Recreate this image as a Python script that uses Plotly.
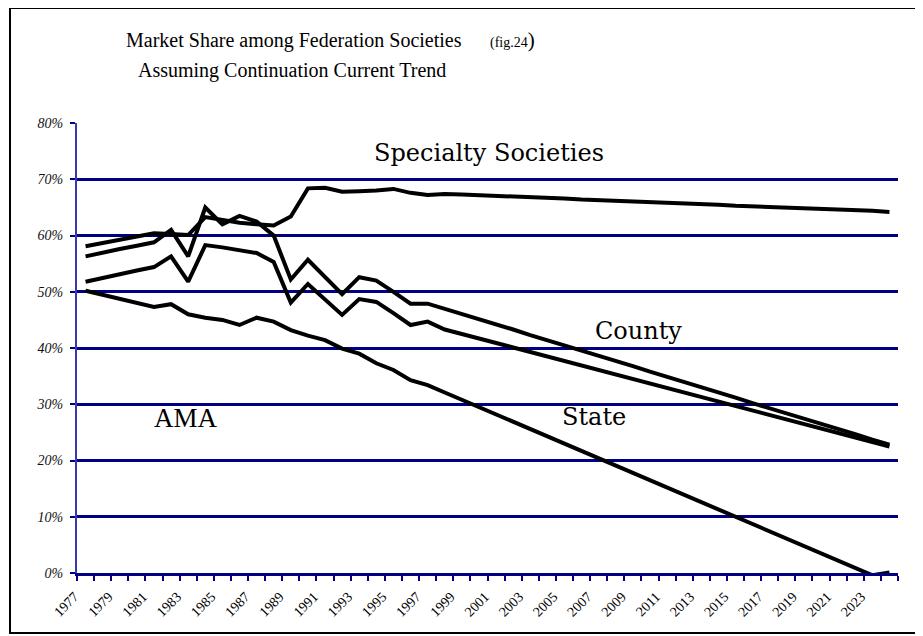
import plotly.graph_objects as go

years = list(range(1977, 2025))

specialty = [58.1, 58.7, 59.2, 59.8, 60.4, 60.3, 60.1, 63.3, 62.8, 62.3,
             62.0, 61.8, 63.4, 68.4, 68.5, 67.8, 67.9, 68.0, 68.3, 67.6,
             67.2, 67.4, 67.3, 67.2, 67.0, 66.9, 66.8, 66.7, 66.6, 66.4,
             66.3, 66.2, 66.1, 66.0, 65.8, 65.7, 65.6, 65.5, 65.3, 65.2,
             65.1, 65.0, 64.9, 64.7, 64.6, 64.5, 64.4, 64.2]

county = [56.3, 57.0, 57.6, 58.2, 58.8, 61.0, 56.3, 65.0, 62.0, 63.5,
          62.5, 60.0, 52.2, 55.7, 52.7, 49.6, 52.6, 52.0, 50.0, 47.9,
          47.9, 47.0, 46.1, 45.1, 44.2, 43.3, 42.3, 41.4, 40.5, 39.5,
          38.6, 37.7, 36.8, 35.8, 34.9, 34.0, 33.0, 32.1, 31.2, 30.2,
          29.3, 28.4, 27.5, 26.5, 25.6, 24.7, 23.7, 22.8]

state = [51.8, 52.5, 53.2, 53.8, 54.4, 56.3, 51.8, 58.3, 57.9, 57.4,
         56.9, 55.3, 48.1, 51.4, 48.6, 45.9, 48.7, 48.2, 46.2, 44.1,
         44.7, 43.3, 42.5, 41.7, 40.9, 40.1, 39.3, 38.5, 37.7, 36.9,
         36.1, 35.3, 34.5, 33.7, 32.9, 32.1, 31.3, 30.5, 29.7, 28.9,
         28.1, 27.3, 26.5, 25.7, 24.9, 24.1, 23.3, 22.5]

ama = [50.2, 49.5, 48.8, 48.0, 47.3, 47.8, 46.0, 45.4, 45.0, 44.1,
       45.4, 44.7, 43.2, 42.2, 41.4, 39.9, 39.0, 37.3, 36.1, 34.3,
       33.4, 32.1, 30.8, 29.5, 28.2, 26.9, 25.6, 24.3, 23.0, 21.7,
       20.4, 19.1, 17.8, 16.5, 15.2, 13.9, 12.6, 11.3, 10.0, 8.7,
       7.4, 6.1, 4.8, 3.5, 2.2, 0.9, -0.4, 0.1]

tick_years = list(range(1977, 2024, 2))
tick_labels = [str(y) for y in tick_years]
boundaries = [y - 0.5 for y in range(1977, 2026)]
y_ticks = list(range(0, 81, 10))
y_labels = [f"{v}%" for v in y_ticks]

NAVY = "#000080"
SERIF = "Liberation Serif, Times New Roman, serif"
LABEL = "DejaVu Serif, serif"

# page offset (body margin) of 8px
OFF = 8
L, R, T, B = 77 - OFF, 898 - OFF, 123 - OFF, 573 - OFF
W, H = 923, 636

fig = go.Figure()
for name, vals in [("Specialty Societies", specialty), ("County", county),
                   ("State", state), ("AMA", ama)]:
    fig.add_trace(go.Scatter(x=years, y=vals, mode="lines", name=name,
                             line=dict(color="black", width=4)))

fig.update_layout(
    width=W, height=H,
    margin=dict(l=L, r=W - R, t=T, b=H - B),
    paper_bgcolor="white", plot_bgcolor="white",
    showlegend=False,
    xaxis=dict(
        range=[1976.5, 2024.5], tickmode="array", tickvals=tick_years,
        ticktext=tick_labels, tickangle=-45, ticks="", showgrid=False,
        zeroline=False, showline=True, linecolor=NAVY, linewidth=3,
        ticklabelshift=-11, ticklabelstandoff=7,
        tickfont=dict(family=SERIF, size=14, color="black"),
        minor=dict(tickmode="array", tickvals=boundaries, ticks="outside",
                   ticklen=5, tickwidth=2, tickcolor=NAVY, showgrid=False),
    ),
    yaxis=dict(
        range=[0, 80.02], tickmode="array", tickvals=y_ticks, ticktext=y_labels,
        showgrid=True, gridcolor=NAVY, gridwidth=2.5, zeroline=False,
        showline=True, linecolor="#3a3aa8", linewidth=2,
        ticks="outside", ticklen=5, tickwidth=2, tickcolor=NAVY,
        ticklabelstandoff=4,
        tickfont=dict(family=SERIF, size=14, color="#111", style="italic"),
    ),
)

def px_x(px):
    return (px - OFF - L) / (R - L)

def px_y(py):
    return (B - (py - OFF)) / (B - T)

annots = [
    dict(text="Market Share among Federation Societies", x=px_x(294), y=px_y(40),
         font=dict(family=SERIF, size=20, color="black")),
    dict(text="Assuming Continuation Current Trend", x=px_x(291.5), y=px_y(70),
         font=dict(family=SERIF, size=20, color="black")),
    dict(text="<span style='font-size:14px'>(fig.24</span>)", x=px_x(488), y=px_y(40),
         xanchor="left", font=dict(family=SERIF, size=21, color="black")),
]
for a in annots:
    a.setdefault("xanchor", "center")
    fig.add_annotation(xref="paper", yref="paper", yanchor="middle",
                       showarrow=False, **a)

for text, x, y, fam, size in [("Specialty Societies", 2000.6, 74.6, LABEL, 24),
                              ("County", 2009.3, 43.1, LABEL, 24),
                              ("State", 2006.7, 27.8, LABEL, 24),
                              ("AMA", 1982.9, 27.6, SERIF, 27)]:
    fig.add_annotation(x=x, y=y, xref="x", yref="y", text=text, showarrow=False,
                       xanchor="center", yanchor="middle",
                       font=dict(family=fam, size=size, color="black"))

fig.add_shape(type="rect", xref="paper", yref="paper",
              x0=px_x(10), x1=px_x(918), y0=px_y(633), y1=px_y(8),
              line=dict(color="black", width=2), layer="below")

fig.write_html("out.html")
